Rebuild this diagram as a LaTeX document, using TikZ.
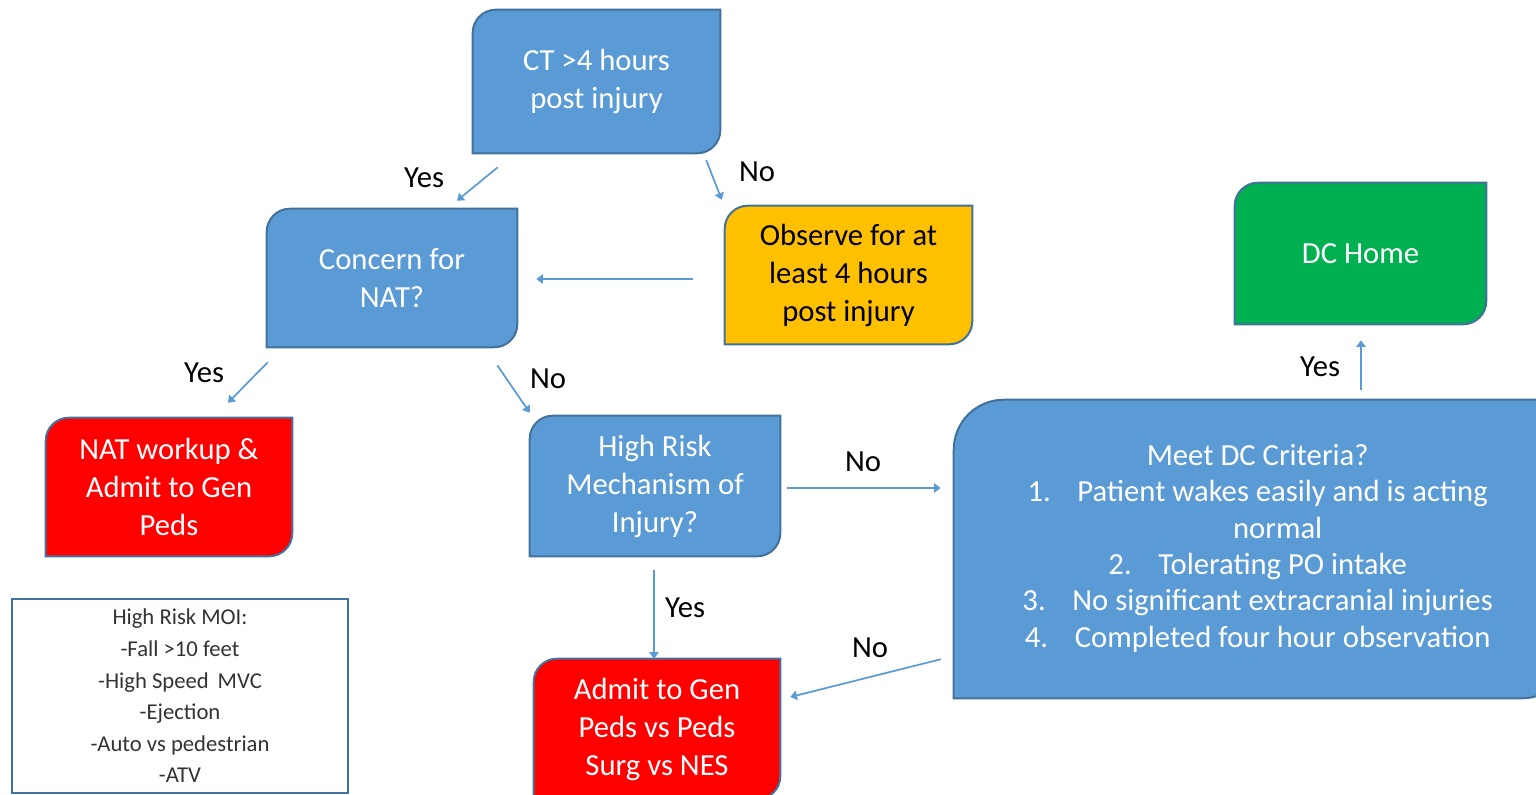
\documentclass[tikz,border=0pt]{standalone}
\usepackage{fontspec}
\setmainfont{Carlito}
\usetikzlibrary{calc,arrows.meta,backgrounds}
\definecolor{bfill}{HTML}{5B9BD5}
\definecolor{bline}{HTML}{41719C}
\definecolor{rfill}{HTML}{FF0000}
\definecolor{gfill}{HTML}{00B050}
\definecolor{ofill}{HTML}{FFC000}
\definecolor{moitext}{HTML}{333333}
\newcommand\rdbox[3]{%
  \path[#3] ($(#1.north west)+(0,#2)$) arc[start angle=180,end angle=90,radius={#2*0.75pt}]
    -- (#1.north east) -- ($(#1.south east)+(0,-#2)$)
    arc[start angle=0,end angle=-90,radius={#2*0.75pt}] -- (#1.south west) -- cycle;}
\tikzset{
  box/.style={inner sep=0pt, align=center, text=white,
    font=\fontsize{23}{28.5}\selectfont},
  shp/.style={draw=bline, line width=1.5pt, fill=#1},
  lab/.style={inner sep=0pt, text=black, font=\fontsize{23}{28}\selectfont},
  arr/.style={draw=bfill, line width=1.3pt, -{Triangle[length=5pt,width=7pt]}},
}
\begin{document}
\begin{tikzpicture}[x=0.75pt,y=-0.75pt]
\useasboundingbox (0,0) rectangle (1536,795);
% nodes
\node[box, minimum width=185.25pt, minimum height=107.25pt] (ct) at (596.5,81.5) {CT >4 hours\\post injury};
\node[box, minimum width=187.5pt, minimum height=103.5pt] (concern) at (392,278) {Concern for\\NAT?};
\node[box, text=black, minimum width=185.25pt, minimum height=103.5pt] (observe) at (848.5,275) {Observe for at\\least 4 hours\\post injury};
\node[box, minimum width=188.25pt, minimum height=105.75pt] (home) at (1360.5,253.5) {DC Home};
\node[box, minimum width=184.5pt, minimum height=103.5pt] (nat) at (169,487) {NAT workup \&\\Admit to Gen\\Peds};
\node[box, minimum width=187.5pt, minimum height=105pt] (hr) at (655,486) {High Risk\\Mechanism of\\Injury?};
\node[box, minimum width=463.5pt, minimum height=223.5pt, font=\fontsize{23}{27.3}\selectfont] (meet) at (1263,549) {%
  \begin{tabular}{@{}c@{}}
  Meet DC Criteria?\\
  1.\hspace{20pt}Patient wakes easily and is acting\\
  \hspace{30pt}normal\\
  2.\hspace{20pt}Tolerating PO intake\\
  3.\hspace{20pt}No significant extracranial injuries\\
  4.\hspace{20pt}Completed four hour observation
  \end{tabular}\hspace{8pt}};
\node[box, minimum width=184.5pt, minimum height=105pt] (admit) at (657,729) {Admit to Gen\\Peds vs Peds\\Surg vs NES};
\node[draw=bline, line width=1.5pt, fill=white, inner sep=0pt, minimum width=252pt, minimum height=145.5pt,
  align=center, text=moitext, font=\fontsize{17}{23.7}\selectfont] (moi) at (180,696)
  {High Risk MOI:\\-Fall >10 feet\\-High Speed\, MVC\\-Ejection\\-Auto vs pedestrian\\-ATV};
% shapes
\begin{scope}[on background layer]
\rdbox{ct}{23}{shp=bfill}
\rdbox{concern}{23}{shp=bfill}
\rdbox{observe}{23}{shp=ofill}
\rdbox{home}{23}{shp=gfill}
\rdbox{nat}{23}{shp=rfill}
\rdbox{hr}{23}{shp=bfill}
\rdbox{meet}{50}{shp=bfill}
\rdbox{admit}{23}{shp=rfill}
\end{scope}
% connectors
\draw[arr] ($(ct.south west)+(25,14)$) -- ($(concern.north)+(65,-8)$);
\draw[arr] ($(ct.south east)+(-14,7)$) -- ($(observe.north west)+(-3,-6)$);
\draw[arr] ($(observe.west)+(-32,4)$) -- ($(concern.east)+(19,1)$);
\draw[arr] ($(concern.south west)+(1,15)$) -- ($(nat.north)+(59,-15)$);
\draw[arr] ($(concern.south east)+(-20,18)$) -- ($(hr.north west)+(0,-3)$);
\draw[arr] ($(hr.east)+(7,2)$) -- ($(meet.west)+(-13,-61)$);
\draw[arr] ($(hr.south)+(-1,14)$) -- ($(admit.north)+(-3,0)$);
\draw[arr] ($(meet.south west)+(-13,-39)$) -- ($(admit.east)+(10,-32)$);
\draw[arr] ($(meet.north)+(98,-10)$) -- ($(home.south)+(0.5,16)$);
% labels
\node[lab] (l1) at (424,178) {Yes};
\node[lab] (l2) at (757,172) {No};
\node[lab] (l3) at (204,373) {Yes};
\node[lab] (l4) at (548,379) {No};
\node[lab] (l5) at (863,462) {No};
\node[lab] (l6) at (685,608) {Yes};
\node[lab] (l7) at (870,648) {No};
\node[lab] (l8) at (1320,367) {Yes};
\end{tikzpicture}
\end{document}
